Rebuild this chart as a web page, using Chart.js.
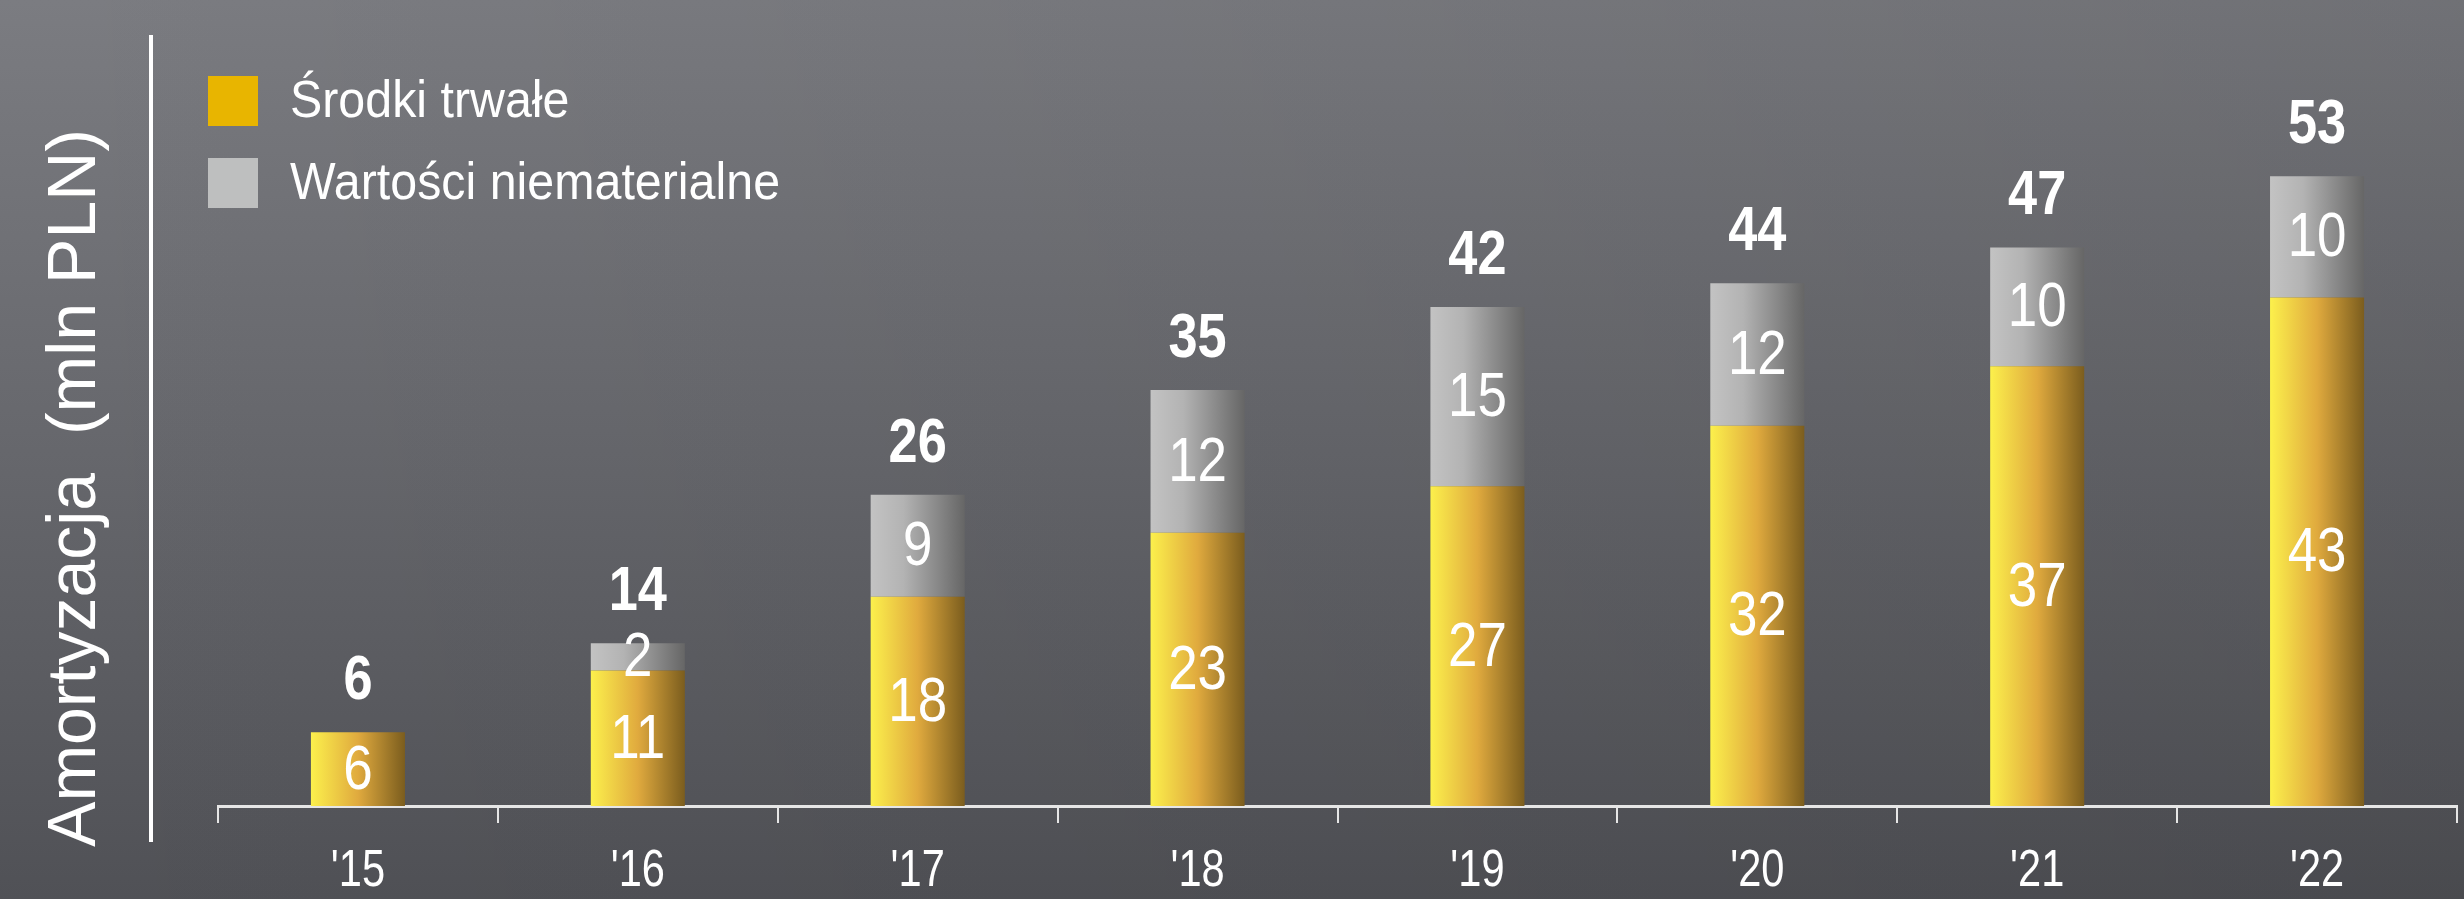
<!DOCTYPE html>
<html><head><meta charset="utf-8">
<script src="https://cdn.jsdelivr.net/npm/chart.js@4.4.1/dist/chart.umd.min.js"></script>
<style>html,body{margin:0;padding:0;background:#5f6065;overflow:hidden}canvas{display:block}</style>
</head><body><canvas id="c" width="2464" height="899"></canvas>
<script>
const categories = ["'15", "'16", "'17", "'18", "'19", "'20", "'21", "'22"];
const fixedAssets = [6.2, 11.4, 17.6, 23.0, 26.9, 32.0, 37.0, 42.8];
const intangibles = [0, 2.3, 8.6, 12.0, 15.1, 12.0, 10.0, 10.2];
const seriesNames = ['Środki trwałe', 'Wartości niematerialne'];
const axisTitle = 'Amortyzacja  (mln PLN)';
const yMax = 60;

const SANS = "'Liberation Sans', Arial, sans-serif";
const BAR_PCT = 0.336;
const yellowStops = [[0, '#fcf04c'], [0.5, '#e0aa3e'], [1, '#7b5d1e']];
const grayStops = [[0, '#c3c3c3'], [0.35, '#b3b3b3'], [1, '#666666']];
const legendColors = ['#e8b500', '#bebfbf'];

function barGradient(ctx, stops) {
  const chart = ctx.chart;
  const xs = chart.scales && chart.scales.x;
  if (ctx.type !== 'data' || !xs || !xs.width) return stops[1][1];
  const cx = xs.getPixelForValue(ctx.dataIndex);
  const w = xs.width / categories.length * BAR_PCT;
  const g = chart.ctx.createLinearGradient(cx - w / 2, 0, cx + w / 2, 0);
  stops.forEach(s => g.addColorStop(s[0], s[1]));
  return g;
}

function narrowText(c, text, x, y, font, sx, align, baseline) {
  c.save();
  c.translate(x, y);
  c.scale(sx, 1);
  c.font = font;
  c.textAlign = align;
  c.textBaseline = baseline;
  c.fillStyle = '#ffffff';
  c.fillText(text, 0, 0);
  c.restore();
}

const decor = {
  id: 'decor',
  beforeDraw(chart) {
    const c = chart.ctx;
    c.save();
    const g = c.createLinearGradient(0, 0, 0, chart.height);
    g.addColorStop(0, '#7b7c81');
    g.addColorStop(0.55, '#64656a');
    g.addColorStop(1, '#505156');
    c.fillStyle = g;
    c.fillRect(0, 0, chart.width, chart.height);
    const h = c.createLinearGradient(0, 0, chart.width, 0);
    h.addColorStop(0, 'rgba(0,0,0,0)');
    h.addColorStop(1, 'rgba(0,0,0,0.09)');
    c.fillStyle = h;
    c.fillRect(0, 0, chart.width, chart.height);
    c.restore();
  },
  afterDraw(chart) {
    const c = chart.ctx;
    c.save();
    // vertical separator line
    c.strokeStyle = '#ffffff';
    c.lineWidth = 4;
    c.beginPath();
    c.moveTo(151, 35);
    c.lineTo(151, 842);
    c.stroke();
    // axis title
    c.translate(76, 488);
    c.rotate(-Math.PI / 2);
    c.fillStyle = '#ffffff';
    c.font = '68px ' + SANS;
    c.textAlign = 'center';
    c.textBaseline = 'middle';
    c.fillText(axisTitle, 0, 0);
    c.restore();
    // legend
    const ys = [101, 183];
    seriesNames.forEach((n, i) => {
      c.save();
      c.fillStyle = legendColors[i];
      c.fillRect(208, ys[i] - 25, 50, 50);
      c.restore();
      narrowText(c, n, 290, ys[i] + 2, '52px ' + SANS, 0.93, 'left', 'middle');
    });
    // category labels
    const xs = chart.scales.x;
    categories.forEach((lab, i) => {
      narrowText(c, lab, xs.getPixelForValue(i), 872, '52px ' + SANS, 0.8, 'center', 'middle');
    });
  },
  afterDatasetsDraw(chart) {
    const c = chart.ctx;
    const metas = [chart.getDatasetMeta(0), chart.getDatasetMeta(1)];
    const vals = [fixedAssets, intangibles];
    metas.forEach((m, di) => {
      m.data.forEach((el, i) => {
        const v = vals[di][i];
        if (!v) return;
        narrowText(c, String(Math.round(v)), el.x, (el.y + el.base) / 2 + 2, '63px ' + SANS, 0.84, 'center', 'middle');
      });
    });
    categories.forEach((_, i) => {
      const top = Math.min(metas[0].data[i].y, metas[1].data[i].y);
      const total = Math.round(fixedAssets[i] + intangibles[i]);
      narrowText(c, String(total), metas[0].data[i].x, top - 33, 'bold 63px ' + SANS, 0.83, 'center', 'alphabetic');
    });
  }
};

new Chart(document.getElementById('c'), {
  type: 'bar',
  data: {
    labels: categories,
    datasets: [
      { label: seriesNames[0], data: fixedAssets, backgroundColor: ctx => barGradient(ctx, yellowStops), borderWidth: 0 },
      { label: seriesNames[1], data: intangibles, backgroundColor: ctx => barGradient(ctx, grayStops), borderWidth: 0 }
    ]
  },
  options: {
    responsive: false,
    animation: false,
    devicePixelRatio: 1,
    layout: { padding: { left: 218, right: 7, top: 93, bottom: 0 } },
    datasets: { bar: { barPercentage: BAR_PCT, categoryPercentage: 1 } },
    plugins: { legend: { display: false }, tooltip: { enabled: false } },
    scales: {
      x: {
        stacked: true,
        afterFit: s => { s.height = 93; },
        grid: { display: true, drawOnChartArea: false, drawTicks: true, tickLength: 17, color: '#e6e6e6', lineWidth: 2 },
        border: { display: true, color: '#e6e6e6', width: 3 },
        ticks: { display: false }
      },
      y: {
        stacked: true,
        display: false,
        min: 0,
        max: yMax
      }
    }
  },
  plugins: [decor]
});
</script>
</body></html>
